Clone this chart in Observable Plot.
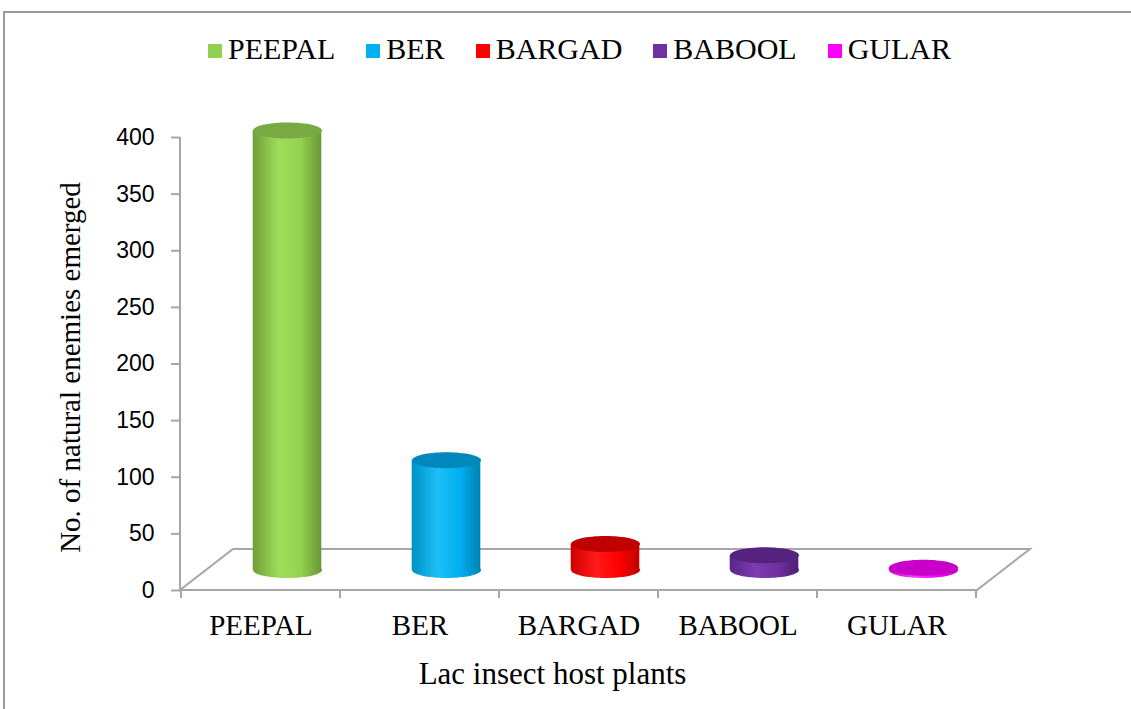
<!DOCTYPE html>
<html><head><meta charset="utf-8">
<script src="https://cdn.jsdelivr.net/npm/d3@7"></script>
<script src="https://cdn.jsdelivr.net/npm/@observablehq/plot@0.6"></script>
<style>
html,body{margin:0;padding:0;background:#fff;}
#wrap{position:relative;width:1131px;height:709px;overflow:hidden;background:#fff;}
#border{position:absolute;left:3px;top:11px;right:-5px;bottom:-5px;border-top:2px solid #9a9a9a;border-left:2px solid #9a9a9a;pointer-events:none;z-index:3}
#legend{position:absolute;left:208px;top:31px;display:flex;align-items:center;gap:31px;font-family:"Liberation Serif",serif;font-size:30px;line-height:36px;color:#000;z-index:2}
.item{display:flex;align-items:center;}
.sw{width:14px;height:14px;margin-right:6px;margin-top:3px;}
#chart{position:absolute;left:0;top:0;z-index:1}
</style></head>
<body>
<div id="wrap">
  <div id="border"></div>
  <div id="legend"></div>
  <div id="chart"></div>
</div>
<script>
const categories = ["PEEPAL", "BER", "BARGAD", "BABOOL", "GULAR"];
const values = [388, 97, 23, 13, 2];
const colors = ["#92D050", "#00B0F0", "#FF0000", "#7030A0", "#FF00FF"];
const topColors = ["#78a942", "#0088bd", "#c00000", "#55237f", "#c800c8"];
const gradStops = [
  ["#6f9e3a", "#9fde5a", "#93d24e", "#6a9637"],
  ["#0090c6", "#1cc0f6", "#00b0f0", "#0082b2"],
  ["#d00000", "#ff1a1a", "#ff0000", "#c00000"],
  ["#5a258a", "#7f3cb0", "#7030a0", "#4d1e72"],
  ["#d000d0", "#ff3aff", "#ff00ff", "#c000c0"]
];
const yTicks = [0, 50, 100, 150, 200, 250, 300, 350, 400];
const yTitle = "No. of natural enemies emerged";
const xTitle = "Lac insect host plants";

const DX = 53, DY = -41;           // 3-D depth offset of the floor
const BX = DX / 2, BY = DY / 2;    // cylinders stand at mid depth
const RX = 34.5, RY = 8;           // cylinder radius (screen)

const data = categories.map((name, i) => ({name, value: values[i], key: name.toLowerCase(), i}));

// legend
const legend = document.getElementById("legend");
categories.forEach((c, i) => {
  const it = document.createElement("div"); it.className = "item";
  const sw = document.createElement("div"); sw.className = "sw"; sw.style.background = colors[i];
  const tx = document.createElement("span"); tx.textContent = c;
  it.appendChild(sw); it.appendChild(tx); legend.appendChild(it);
});

const ellipseSymbol = {
  draw(context, size) {
    const rx = Math.sqrt(size / Math.PI), ry = rx * RY / RX, k = 0.5522847498;
    context.moveTo(rx, 0);
    context.bezierCurveTo(rx, ry * k, rx * k, ry, 0, ry);
    context.bezierCurveTo(-rx * k, ry, -rx, ry * k, -rx, 0);
    context.bezierCurveTo(-rx, -ry * k, -rx * k, -ry, 0, -ry);
    context.bezierCurveTo(rx * k, -ry, rx, -ry * k, rx, 0);
    context.closePath();
  }
};

function defsMark() {
  const defs = d3.create("svg:defs");
  data.forEach(d => {
    const g = defs.append("linearGradient").attr("id", "cyl-" + d.key)
      .attr("x1", "0").attr("x2", "1").attr("y1", "0").attr("y2", "0");
    const s = gradStops[d.i];
    [[0, s[0]], [0.38, s[1]], [0.7, s[2]], [1, s[3]]].forEach(([o, c]) =>
      g.append("stop").attr("offset", o).attr("stop-color", c));
  });
  return defs.node();
}

function floorMark(index, scales, values, dim) {
  const x0 = dim.marginLeft, x1 = dim.width - dim.marginRight, y0 = scales.y(0);
  const g = d3.create("svg:g").attr("fill", "none").attr("stroke", "#a6a6a6").attr("stroke-width", 2);
  g.append("path").attr("d", `M${x0},${y0}L${x1},${y0}L${x1 + DX},${y0 + DY}L${x0 + DX},${y0 + DY}Z`);
  g.append("line").attr("x1", x0).attr("x2", x0).attr("y1", scales.y(400)).attr("y2", y0);
  const bw = scales.x.bandwidth ? scales.x.bandwidth() : (x1 - x0) / categories.length;
  const bounds = categories.map(c => scales.x(c)).concat([scales.x(categories[categories.length - 1]) + bw]);
  bounds.forEach(b => g.append("line").attr("x1", b).attr("x2", b).attr("y1", y0).attr("y2", y0 + 8));
  return g.node();
}

function titlesMark(index, scales, values, dim) {
  const g = d3.create("svg:g").attr("font-family", "Liberation Serif").attr("fill", "black")
    .attr("text-anchor", "middle").attr("dominant-baseline", "central");
  const y0 = scales.y(0), yMid = (scales.y(0) + scales.y(400)) / 2;
  const xMid = (dim.marginLeft + dim.width - dim.marginRight) / 2;
  g.append("text").attr("font-size", 29)
    .attr("transform", `translate(${dim.marginLeft - 110},${yMid + 4}) rotate(-90)`).text(yTitle);
  g.append("text").attr("font-size", 31)
    .attr("x", xMid - 26).attr("y", y0 + 83).text(xTitle);
  return g.node();
}

const chart = Plot.plot({
  width: 1131, height: 709,
  marginLeft: 180, marginRight: 154, marginTop: 137, marginBottom: 119,
  style: {background: "transparent", overflow: "visible"},
  x: {type: "band", domain: categories, padding: 0},
  y: {domain: [0, 400]},
  color: {type: "identity"},
  marks: [
    defsMark,
    floorMark,
    Plot.axisY({ticks: yTicks, tickSize: 9, tickPadding: 17, fontSize: 23, fontFamily: "Liberation Sans",
      stroke: "#a6a6a6", strokeWidth: 2, fill: "black", label: null, tickFormat: d => String(d)}),
    Plot.axisX({tickSize: 0, tickPadding: 24, fontSize: 29, fontFamily: "Liberation Serif", fill: "black", label: null}),
    Plot.dot(data, {x: "name", y: () => 0, r: RX, symbol: ellipseSymbol, fill: d => `url(#cyl-${d.key})`, stroke: "none", dx: BX, dy: BY}),
    Plot.barY(data, {x: "name", y: "value", fill: d => `url(#cyl-${d.key})`, insetLeft: 45.2, insetRight: 45.2, dx: BX, dy: BY}),
    Plot.dot(data, {x: "name", y: "value", r: RX, symbol: ellipseSymbol, fill: d => topColors[d.i], stroke: "none", dx: BX, dy: BY}),
    titlesMark
  ]
});
document.getElementById("chart").appendChild(chart);
</script>
</body></html>
